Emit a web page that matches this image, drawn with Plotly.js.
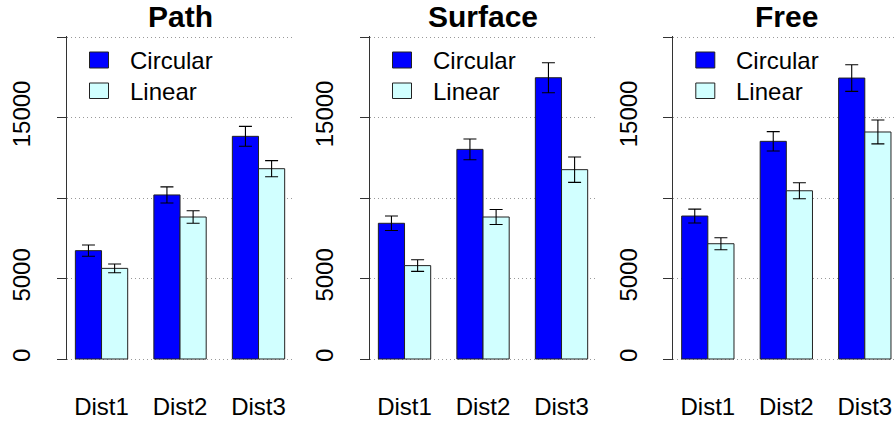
<!DOCTYPE html>
<html>
<head>
<meta charset="utf-8">
<script src="https://cdn.plot.ly/plotly-3.0.1.min.js"></script>
<style>html,body{margin:0;padding:0;background:#fff}#chart{width:895px;height:423px}</style>
</head>
<body>
<div id="chart"></div>
<script>
const categories = ["Dist1", "Dist2", "Dist3"];
const panels = ["Path", "Surface", "Free"];
const seriesNames = ["Circular", "Linear"];

const pathCircular = [6730, 10190, 13830];
const pathCircularErr = [350, 500, 620];
const pathLinear = [5630, 8820, 11820];
const pathLinearErr = [270, 390, 500];

const surfaceCircular = [8430, 13020, 17470];
const surfaceCircularErr = [450, 640, 930];
const surfaceLinear = [5800, 8820, 11760];
const surfaceLinearErr = [360, 470, 790];

const freeCircular = [8880, 13520, 17450];
const freeCircularErr = [430, 600, 830];
const freeLinear = [7160, 10450, 14100];
const freeLinearErr = [370, 500, 740];

const yTickVals = [0, 5000, 10000, 15000, 20000];
const yTickText = ["0", "5000", "", "15000", ""];

const colors = ["#0000FF", "#D1FFFF"];
const FONT = "Liberation Sans, Arial, Helvetica, sans-serif";
const W = 895, H = 423;

const panelData = [
  [[pathCircular, pathCircularErr], [pathLinear, pathLinearErr]],
  [[surfaceCircular, surfaceCircularErr], [surfaceLinear, surfaceLinearErr]],
  [[freeCircular, freeCircularErr], [freeLinear, freeLinearErr]]
];

const axisX = [67, 370, 673.3];
const xDomains = [[67/W, 293.6/W], [370/W, 596.6/W], [673.3/W, 1]];
const xRanges = [[-0.44, 2.447], [-0.44, 2.447], [-0.44, (W-707.8)/78.5]];
// y: 0 -> 359px, 20000 -> 37px; range padded slightly so edge gridlines show
const pad = 80, pxPer = 322/20000;
const yRange = [-pad, 20000 + pad];
const yDomain = [(H - 359 - pad*pxPer)/H, (H - 37 + pad*pxPer)/H];

const traces = [];
const layout = {
  width: W, height: H,
  margin: {l: 0, r: 0, t: 0, b: 0},
  paper_bgcolor: "#fff", plot_bgcolor: "#fff",
  barmode: "group", bargap: 1/3, bargroupgap: 0,
  font: {family: FONT, size: 24, color: "#000"},
  annotations: [], shapes: [], showlegend: false
};

panelData.forEach((pd, p) => {
  const sfx = p === 0 ? "" : String(p + 1);
  pd.forEach((s, k) => {
    traces.push({
      type: "bar", name: seriesNames[k], x: categories, y: s[0],
      xaxis: "x" + sfx, yaxis: "y" + sfx,
      offsetgroup: String(k),
      marker: {color: colors[k], line: {color: "#222", width: 1}},
      error_y: {type: "data", array: s[1], visible: true, color: "#000", thickness: 1.1, width: 6.5},
      hoverinfo: "skip"
    });
    // legend entry (swatch + label), drawn per panel as in the original
    const y0 = k === 0 ? 52 : 83, y1 = k === 0 ? 68 : 98.5;
    layout.shapes.push({
      type: "rect", xref: "paper", yref: "paper",
      x0: (axisX[p] + 22.5)/W, x1: (axisX[p] + 41.5)/W,
      y0: 1 - y1/H, y1: 1 - y0/H,
      fillcolor: colors[k], line: {color: "#222", width: 1}
    });
    layout.annotations.push({
      text: seriesNames[k], xref: "paper", yref: "paper",
      x: (axisX[p] + 61)/W, y: 1 - ((y0 + y1)/2 + 0.5)/H,
      xanchor: "left", yanchor: "middle", showarrow: false,
      font: {size: 24, family: FONT, color: "#000"}
    });
  });
  layout["xaxis" + sfx] = {
    domain: xDomains[p], range: xRanges[p], anchor: "y" + sfx,
    type: "category", showgrid: false, zeroline: false, showline: false,
    ticks: "", tickfont: {size: 24, family: FONT}, ticklabelstandoff: 30,
    fixedrange: true
  };
  layout["yaxis" + sfx] = {
    domain: yDomain, range: yRange, anchor: "x" + sfx,
    tickmode: "array", tickvals: yTickVals, ticktext: yTickText,
    tickangle: -90, ticks: "outside", ticklen: 9, tickcolor: "#333", tickwidth: 1,
    showline: true, linecolor: "#333", linewidth: 1,
    showgrid: true, gridcolor: "#999", gridwidth: 1, griddash: "1px,3px",
    zeroline: false, tickfont: {size: 24, family: FONT}, ticklabelstandoff: 17,
    fixedrange: true
  };
  layout.annotations.push({
    text: "<b>" + panels[p] + "</b>", xref: "paper", yref: "paper",
    x: (xDomains[p][0] + (p === 2 ? 900/W : xDomains[p][1])) / 2, y: 1 - 17/H,
    xanchor: "center", yanchor: "middle", showarrow: false,
    font: {size: 30, family: FONT, color: "#000"}
  });
});

Plotly.newPlot("chart", traces, layout, {staticPlot: true, displayModeBar: false});
</script>
</body>
</html>
